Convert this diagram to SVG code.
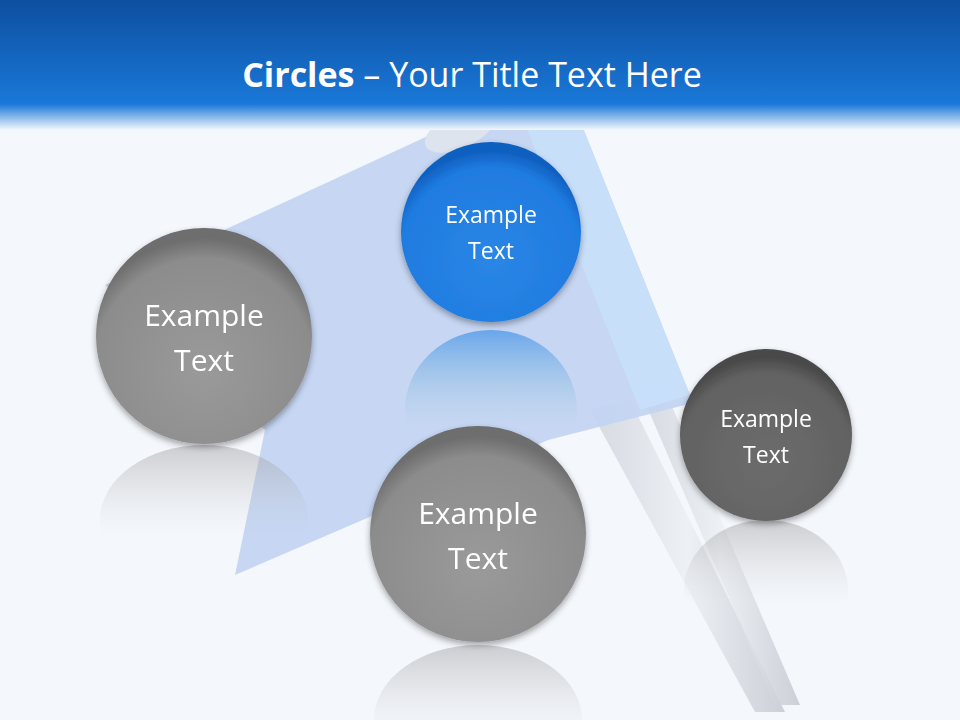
<svg xmlns="http://www.w3.org/2000/svg" width="960" height="720" viewBox="0 0 960 720">
<defs>
<linearGradient id="hdr" x1="0" y1="0" x2="0" y2="1"><stop offset="0" stop-color="#0d4fa0"/><stop offset="0.8" stop-color="#1a78d8"/><stop offset="1" stop-color="#f4f7fc"/></linearGradient>
<radialGradient id="gray" cx="0.5" cy="0.65" r="0.6"><stop offset="0" stop-color="#9a9a9a"/><stop offset="0.85" stop-color="#8c8c8c"/><stop offset="1" stop-color="#6e6e6e"/></radialGradient>
<radialGradient id="dark" cx="0.5" cy="0.65" r="0.6"><stop offset="0" stop-color="#6c6c6c"/><stop offset="0.85" stop-color="#626262"/><stop offset="1" stop-color="#4a4a4a"/></radialGradient>
<radialGradient id="blue" cx="0.5" cy="0.65" r="0.6"><stop offset="0" stop-color="#2a86e6"/><stop offset="0.85" stop-color="#1f7be0"/><stop offset="1" stop-color="#1060c0"/></radialGradient>
<linearGradient id="refl" x1="0" y1="0" x2="0" y2="1"><stop offset="0" stop-color="#999" stop-opacity="0.45"/><stop offset="0.6" stop-color="#ccc" stop-opacity="0"/></linearGradient>
<linearGradient id="reflb" x1="0" y1="0" x2="0" y2="1"><stop offset="0" stop-color="#2a86e6" stop-opacity="0.6"/><stop offset="0.6" stop-color="#9cc" stop-opacity="0"/></linearGradient>
<linearGradient id="pole" x1="0" y1="0" x2="1" y2="0"><stop offset="0" stop-color="#d0d4dc"/><stop offset="0.5" stop-color="#eceff3"/><stop offset="1" stop-color="#c4c8d0"/></linearGradient>
<filter id="sh" x="-20%" y="-20%" width="140%" height="150%"><feDropShadow dx="0" dy="3" stdDeviation="3" flood-opacity="0.35"/></filter>
</defs>
<style>
.t{font-family:"Open Sans","Liberation Sans",sans-serif;fill:#fff;text-anchor:middle}
</style>
<rect width="960" height="720" fill="#f4f7fc"/>
<g id="flag">
<path d="M590,410 L755,712 L785,712 L630,400 Z" fill="url(#pole)" opacity="0.85"/>
<path d="M642,395 L775,705 L800,705 L665,390 Z" fill="url(#pole)" opacity="0.85"/>
<path d="M105,285 L430,135 L520,112 L575,108 L690,395 L685,405 L548,440 L235,575 L265,430 Z" fill="#c3d4f2" opacity="0.95"/>
<path d="M520,112 L575,108 L690,395 L640,410 Z" fill="#c8e0fb" opacity="0.9"/>
<ellipse cx="460" cy="130" rx="38" ry="18" fill="#dde4ee" transform="rotate(-25 460 130)"/>
</g>
<rect width="960" height="130" fill="url(#hdr)"/>
<text x="472" y="87" class="t" font-size="34"><tspan font-weight="bold">Circles</tspan> – Your Title Text Here</text>
<g id="reflections">
<ellipse cx="204" cy="520" rx="104" ry="75" fill="url(#refl)"/>
<ellipse cx="491" cy="410" rx="86" ry="80" fill="url(#reflb)"/>
<ellipse cx="478" cy="720" rx="104" ry="75" fill="url(#refl)"/>
<ellipse cx="766" cy="590" rx="82" ry="70" fill="url(#refl)"/>
</g>
<g id="n1" filter="url(#sh)"><circle cx="204" cy="336" r="108" fill="url(#gray)"/><text class="t" font-size="30"><tspan x="204" y="326">Example</tspan><tspan x="204" y="371">Text</tspan></text></g>
<g id="n2" filter="url(#sh)"><circle cx="491" cy="232" r="90" fill="url(#blue)"/><text class="t" font-size="23"><tspan x="491" y="223">Example</tspan><tspan x="491" y="259">Text</tspan></text></g>
<g id="n3" filter="url(#sh)"><circle cx="478" cy="534" r="108" fill="url(#gray)"/><text class="t" font-size="30"><tspan x="478" y="524">Example</tspan><tspan x="478" y="569">Text</tspan></text></g>
<g id="n4" filter="url(#sh)"><circle cx="766" cy="435" r="86" fill="url(#dark)"/><text class="t" font-size="23"><tspan x="766" y="427">Example</tspan><tspan x="766" y="463">Text</tspan></text></g>
<g id="connectors"/>
</svg>
